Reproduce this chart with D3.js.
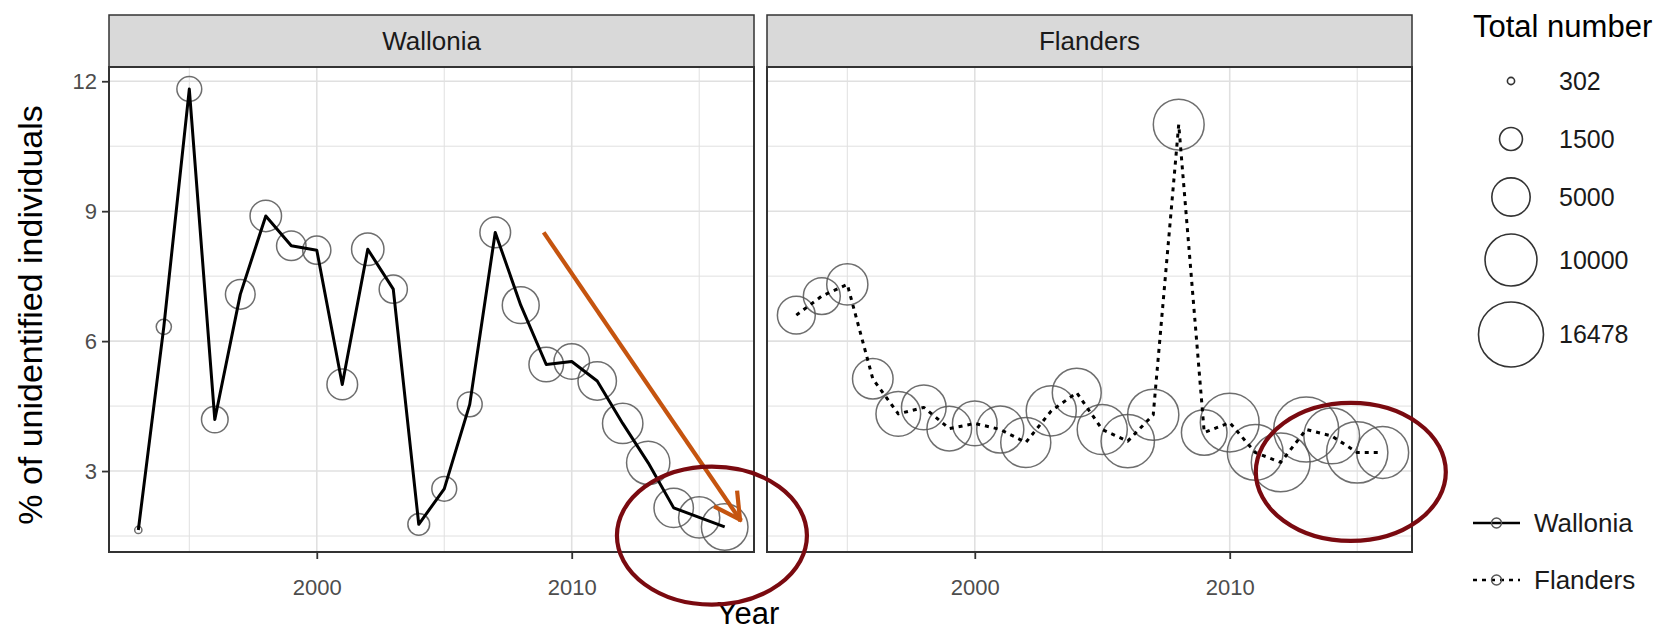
<!DOCTYPE html>
<html><head><meta charset="utf-8">
<script src="https://cdn.jsdelivr.net/npm/d3@7"></script>
<style>
body{margin:0;background:#fff}
svg{display:block}
text{font-family:"Liberation Sans",Arial,Helvetica,sans-serif}
</style>
</head><body>
<svg id="chart" width="1675" height="632"></svg>
<script>
// ---------- data ----------
const years = [1993,1994,1995,1996,1997,1998,1999,2000,2001,2002,2003,2004,2005,2006,2007,2008,2009,2010,2011,2012,2013,2014,2015,2016];
const walloniaPct   = [1.64,6.33,11.82,4.19,7.08,8.89,8.20,8.10,5.00,8.12,7.20,1.77,2.59,4.54,8.51,6.83,5.46,5.53,5.08,4.10,3.19,2.15,1.93,1.71];
const walloniaTotal = [302,610,1810,2120,2750,3150,2700,2430,2970,3380,2430,1330,1810,1810,2970,4570,3920,4190,5020,5630,6600,5320,5880,7810];
const flandersPct   = [6.60,7.04,7.31,5.13,4.32,4.47,3.98,4.10,3.96,3.66,4.39,4.81,3.96,3.69,4.30,11.00,3.89,4.12,3.43,3.20,3.96,3.81,3.43,3.43];
const flandersTotal = [4850,4570,5880,5690,7090,7090,7090,7090,8000,9200,9200,8730,9200,10620,9670,9520,7440,13190,11690,13190,16478,11690,14500,9980];
const regions = ["Wallonia","Flanders"];
const xTicks = [2000,2010];
const xMinor = [1995,2005,2015];
const yTicks = [3,6,9,12];
const yMinor = [1.5,4.5,7.5,10.5];
const sizeBreaks = [302,1500,5000,10000,16478];
const sizeTitle = "Total number";
const xTitle = "Year";
const yTitle = "% of unidentified individuals";

// ---------- layout ----------
const svg = d3.select("#chart");
const stripTop = 15, panelTop = 67, panelBottom = 552;
const panels = [{x0:109,x1:754},{x0:767,x1:1412}];
const seriesData = [
  {name:regions[0], pct:walloniaPct, total:walloniaTotal, dash:null},
  {name:regions[1], pct:flandersPct, total:flandersTotal, dash:"4,5"}
];

const allPct = walloniaPct.concat(flandersPct);
const yLo = d3.min(allPct), yHi = d3.max(allPct), yPad = (yHi-yLo)*0.05;
const y = d3.scaleLinear().domain([yLo-yPad, yHi+yPad]).range([panelBottom, panelTop]);
const xLo = d3.min(years), xHi = d3.max(years), xPad = (xHi-xLo)*0.05;

const sizeMin = d3.min(sizeBreaks), sizeMax = d3.max(sizeBreaks);
const sizeNorm = d3.scaleLinear().domain([sizeMin,sizeMax]).range([0,1]);
const radius = d3.scaleLinear().domain([0,1]).range([3.6,32.5]);
const r = v => radius(Math.sqrt(sizeNorm(v)));

const circleColor = "#555555";
const gridColor = "#e0e0e0";
const borderColor = "#333333";

const defs = svg.append("defs");

panels.forEach((p,i) => {
  const x = d3.scaleLinear().domain([xLo-xPad, xHi+xPad]).range([p.x0, p.x1]);
  p.x = x;
  const g = svg.append("g");
  // strip
  g.append("rect").attr("x",p.x0).attr("y",stripTop).attr("width",p.x1-p.x0).attr("height",panelTop-stripTop)
    .attr("fill","#d9d9d9").attr("stroke",borderColor).attr("stroke-width",1.5);
  g.append("text").attr("x",(p.x0+p.x1)/2).attr("y",(stripTop+panelTop)/2).attr("dy","0.36em")
    .attr("text-anchor","middle").attr("font-size",26).attr("fill","#1a1a1a").text(seriesData[i].name);
  // panel bg
  g.append("rect").attr("x",p.x0).attr("y",panelTop).attr("width",p.x1-p.x0).attr("height",panelBottom-panelTop).attr("fill","#fff");
  // grid
  g.selectAll(".gxm").data(xMinor).enter().append("line")
    .attr("x1",d=>x(d)).attr("x2",d=>x(d)).attr("y1",panelTop).attr("y2",panelBottom)
    .attr("stroke",gridColor).attr("stroke-width",1);
  g.selectAll(".gym").data(yMinor).enter().append("line")
    .attr("x1",p.x0).attr("x2",p.x1).attr("y1",d=>y(d)).attr("y2",d=>y(d))
    .attr("stroke",gridColor).attr("stroke-width",1);
  g.selectAll(".gx").data(xTicks).enter().append("line")
    .attr("x1",d=>x(d)).attr("x2",d=>x(d)).attr("y1",panelTop).attr("y2",panelBottom)
    .attr("stroke",gridColor).attr("stroke-width",1.6);
  g.selectAll(".gy").data(yTicks).enter().append("line")
    .attr("x1",p.x0).attr("x2",p.x1).attr("y1",d=>y(d)).attr("y2",d=>y(d))
    .attr("stroke",gridColor).attr("stroke-width",1.6);

  // clip
  defs.append("clipPath").attr("id","clip"+i).append("rect")
    .attr("x",p.x0).attr("y",panelTop).attr("width",p.x1-p.x0).attr("height",panelBottom-panelTop);
  const s = seriesData[i];
  const pts = years.map((yr,k)=>({yr, v:s.pct[k], n:s.total[k]}));
  const dg = g.append("g").attr("clip-path",`url(#clip${i})`);
  dg.selectAll("circle").data(pts).enter().append("circle")
    .attr("cx",d=>x(d.yr)).attr("cy",d=>y(d.v)).attr("r",d=>r(d.n))
    .attr("fill","none").attr("stroke",circleColor).attr("stroke-width",1.5).attr("stroke-opacity",0.85);
  const line = d3.line().x(d=>x(d.yr)).y(d=>y(d.v));
  dg.append("path").datum(pts).attr("d",line).attr("fill","none").attr("stroke","#000")
    .attr("stroke-width",3).attr("stroke-dasharray",s.dash).attr("stroke-linejoin","round");

  // border
  g.append("rect").attr("x",p.x0).attr("y",panelTop).attr("width",p.x1-p.x0).attr("height",panelBottom-panelTop)
    .attr("fill","none").attr("stroke",borderColor).attr("stroke-width",2);

  // x axis
  const xa = g.append("g").attr("transform",`translate(0,${panelBottom})`)
    .call(d3.axisBottom(x).tickValues(xTicks).tickFormat(d3.format("d")).tickSize(7).tickPadding(20));
  xa.select(".domain").remove();
  xa.selectAll("line").attr("stroke",borderColor).attr("stroke-width",1.8);
  xa.selectAll("text").attr("font-size",22).attr("fill","#4d4d4d").attr("font-family",null);

  if (i===0) {
    const ya = g.append("g").attr("transform",`translate(${p.x0},0)`)
      .call(d3.axisLeft(y).tickValues(yTicks).tickFormat(d3.format("d")).tickSize(7).tickPadding(5));
    ya.select(".domain").remove();
    ya.selectAll("line").attr("stroke",borderColor).attr("stroke-width",1.8);
    ya.selectAll("text").attr("font-size",22).attr("fill","#4d4d4d").attr("font-family",null);
  }
});

// axis titles
svg.append("text").attr("x",748).attr("y",624)
  .attr("text-anchor","middle").attr("font-size",31).attr("fill","#000").text(xTitle);
svg.append("text").attr("transform","translate(30,315) rotate(-90)").attr("dy","0.36em")
  .attr("text-anchor","middle").attr("font-size",34).attr("fill","#000").text(yTitle);

// size legend
const lg = svg.append("g");
lg.append("text").attr("x",1473).attr("y",26).attr("dy","0.36em").attr("font-size",31).attr("fill","#000").text(sizeTitle);
let cy = 52;
sizeBreaks.forEach(b => {
  const h = Math.max(58, 2*r(b)+16);
  const c = cy + h/2;
  lg.append("circle").attr("cx",1511).attr("cy",c).attr("r",r(b)).attr("fill","none")
    .attr("stroke","#333").attr("stroke-width",1.6);
  lg.append("text").attr("x",1559).attr("y",c).attr("dy","0.36em").attr("font-size",25).attr("fill","#1a1a1a").text(b);
  cy += h;
});

// line legend
seriesData.forEach((s,k) => {
  const c = 523 + k*57;
  lg.append("line").attr("x1",1473).attr("x2",1520).attr("y1",c).attr("y2",c)
    .attr("stroke","#000").attr("stroke-width",2.6).attr("stroke-dasharray",s.dash);
  lg.append("circle").attr("cx",1496.5).attr("cy",c).attr("r",5).attr("fill","none")
    .attr("stroke",circleColor).attr("stroke-width",1.4);
  lg.append("text").attr("x",1534).attr("y",c).attr("dy","0.36em").attr("font-size",26).attr("fill","#1a1a1a").text(s.name);
});

// annotations (placed in data coordinates)
const xl = panels[0].x, xr = panels[1].x;
const arrowFrom = [2008.9, 8.51], arrowTo = [2016.6, 1.88];
const ax0 = xl(arrowFrom[0]), ay0 = y(arrowFrom[1]), ax1 = xl(arrowTo[0]), ay1 = y(arrowTo[1]);
const orange = "#c5540f";
svg.append("line").attr("x1",ax0).attr("y1",ay0).attr("x2",ax1).attr("y2",ay1)
  .attr("stroke",orange).attr("stroke-width",4.2);
const ang = Math.atan2(ay1-ay0, ax1-ax0);
[-0.5,0.5].forEach(dA => {
  const a = ang + Math.PI + dA;
  svg.append("line").attr("x1",ax1).attr("y1",ay1)
    .attr("x2",ax1+27*Math.cos(a)).attr("y2",ay1+27*Math.sin(a))
    .attr("stroke",orange).attr("stroke-width",4.2).attr("stroke-linecap","square");
});
const maroon = "#7a0a10";
svg.append("ellipse").attr("cx",xl(2015.5)).attr("cy",y(1.51)).attr("rx",95).attr("ry",69)
  .attr("fill","none").attr("stroke",maroon).attr("stroke-width",4.2);
svg.append("ellipse").attr("cx",xr(2014.75)).attr("cy",y(2.98)).attr("rx",95).attr("ry",69)
  .attr("fill","none").attr("stroke",maroon).attr("stroke-width",4.2);
</script>
</body></html>
